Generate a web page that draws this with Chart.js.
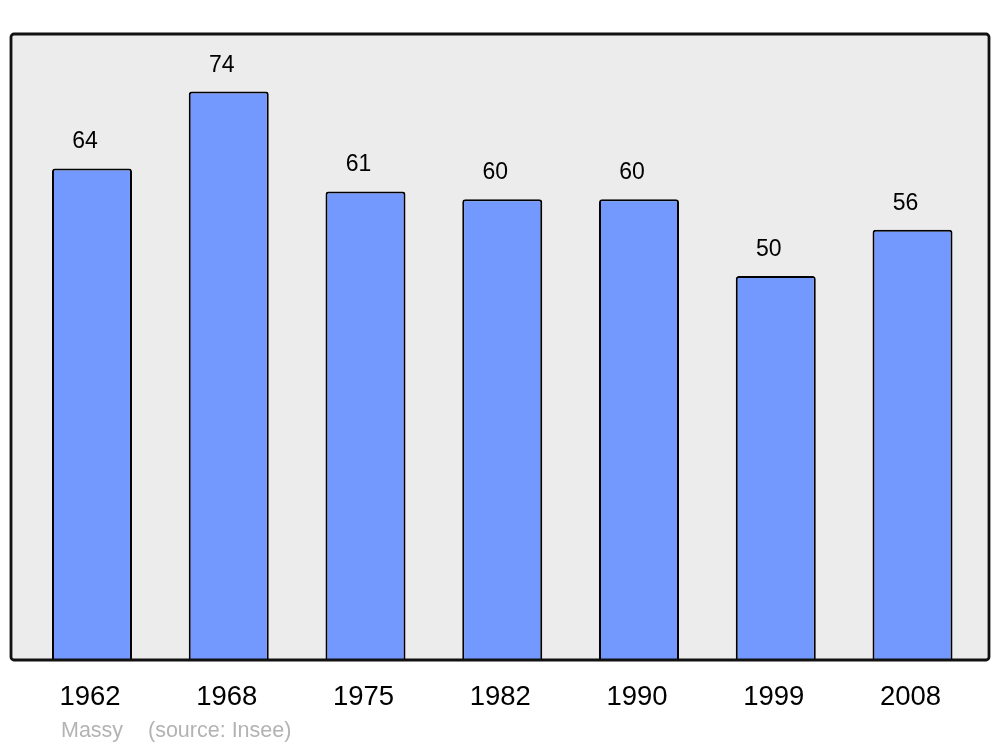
<!DOCTYPE html>
<html>
<head>
<meta charset="utf-8">
<script src="https://cdn.jsdelivr.net/npm/chart.js@4/dist/chart.umd.min.js"></script>
<style>
  body { margin: 0; background: #fff; }
  #wrap { width: 1000px; height: 747px; position: relative; }
</style>
</head>
<body>
<div id="wrap"><canvas id="popChart"></canvas></div>
<script>
// data
const years = ['1962', '1968', '1975', '1982', '1990', '1999', '2008'];
const population = [64, 74, 61, 60, 60, 50, 56];
const yMax = 81.5;

const FONT = '"Liberation Sans", Arial, sans-serif';

// grey frame behind the bars, border drawn on top
const framePlugin = {
    id: 'frame',
    beforeDatasetsDraw(chart) {
        const c = chart.ctx;
        c.save();
        c.beginPath();
        c.roundRect(11, 34, 978, 626, 3);
        c.fillStyle = '#ececec';
        c.fill();
        c.restore();
    },
    afterDatasetsDraw(chart) {
        const c = chart.ctx;
        c.save();
        c.beginPath();
        c.roundRect(11, 34, 978, 626, 3);
        c.lineWidth = 2.8;
        c.strokeStyle = '#111';
        c.stroke();
        c.restore();
    }
};

// value labels, year labels and source line
const textPlugin = {
    id: 'texts',
    afterDraw(chart) {
        const c = chart.ctx;
        const meta = chart.getDatasetMeta(0);
        const xScale = chart.scales.x;
        c.save();
        c.textAlign = 'center';
        c.textBaseline = 'alphabetic';
        c.fillStyle = '#000';
        c.font = '23px ' + FONT;
        meta.data.forEach((bar, i) => {
            c.fillText(String(population[i]), bar.x - 7, bar.y - 20);
        });
        c.font = '27.5px ' + FONT;
        years.forEach((y, i) => {
            c.fillText(y, xScale.getPixelForValue(i) - 2, 705);
        });
        c.textAlign = 'left';
        c.fillStyle = '#b3b3b3';
        c.font = '21.5px ' + FONT;
        c.fillText('Massy', 61, 737);
        c.fillText('(source: Insee)', 148, 737);
        c.restore();
    }
};

new Chart(document.getElementById('popChart'), {
    type: 'bar',
    data: {
        labels: years,
        datasets: [{
            data: population,
            backgroundColor: '#7399ff',
            borderColor: '#000',
            borderWidth: 2,
            borderRadius: { topLeft: 3, topRight: 3, bottomLeft: 0, bottomRight: 0 },
            borderSkipped: 'bottom',
            barPercentage: 0.585,
            categoryPercentage: 1
        }]
    },
    options: {
        responsive: true,
        maintainAspectRatio: false,
        animation: false,
        layout: {
            padding: { left: 23.6, right: 19.1, top: 34, bottom: 87 }
        },
        plugins: {
            legend: { display: false },
            tooltip: { enabled: false }
        },
        scales: {
            x: { display: false },
            y: { display: false, min: 0, max: yMax }
        }
    },
    plugins: [framePlugin, textPlugin]
});
</script>
</body>
</html>
